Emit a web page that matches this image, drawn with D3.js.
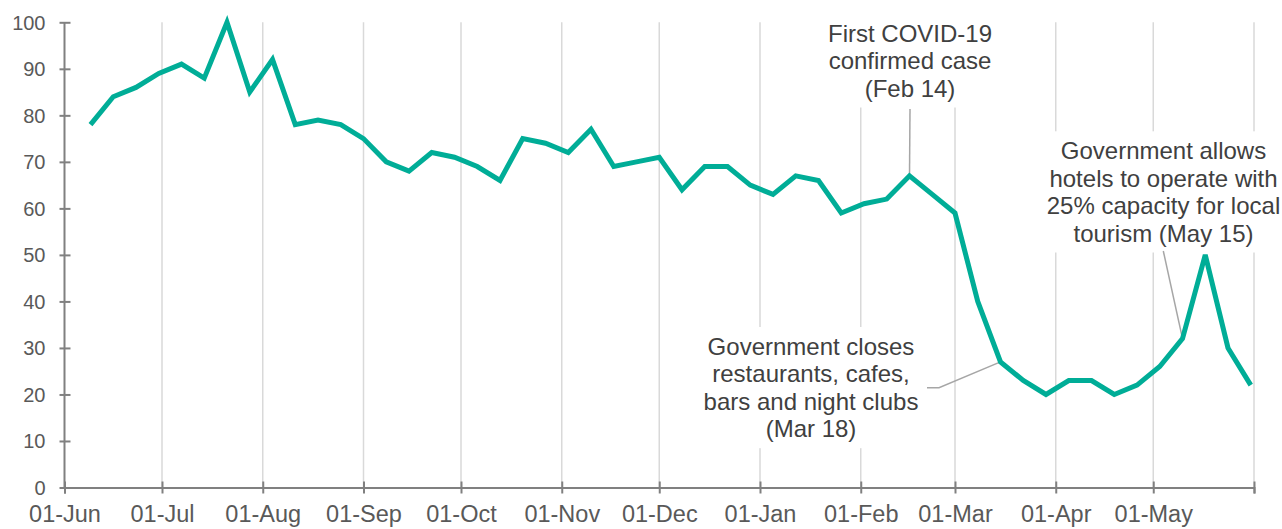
<!DOCTYPE html>
<meta charset="utf-8">
<style>
body { margin: 0; background: #fff; }
svg { font-family: "Liberation Sans", Arial, sans-serif; }
.grid line { stroke: #d9d9d9; stroke-width: 1.5px; }
.axis path, .axis line { stroke: #808080; stroke-width: 2px; }
.axis text { fill: #595959; }
.line { fill: none; stroke: #00ad97; stroke-width: 5px; stroke-linejoin: miter; }
.note text { fill: #404040; font-size: 24px; }
.leader { fill: none; stroke: #a6a6a6; stroke-width: 1.5px; }
</style>
<body>
<script src="https://d3js.org/d3.v7.min.js"></script>
<script>

// weekly dates and values
var weeks = [
  "2019-06-09","2019-06-16","2019-06-23","2019-06-30","2019-07-07","2019-07-14",
  "2019-07-21","2019-07-28","2019-08-04","2019-08-11","2019-08-18","2019-08-25",
  "2019-09-01","2019-09-08","2019-09-15","2019-09-22","2019-09-29","2019-10-06",
  "2019-10-13","2019-10-20","2019-10-27","2019-11-03","2019-11-10","2019-11-17",
  "2019-11-24","2019-12-01","2019-12-08","2019-12-15","2019-12-22","2019-12-29",
  "2020-01-05","2020-01-12","2020-01-19","2020-01-26","2020-02-02","2020-02-09",
  "2020-02-16","2020-02-23","2020-03-01","2020-03-08","2020-03-15","2020-03-22",
  "2020-03-29","2020-04-05","2020-04-12","2020-04-19","2020-04-26","2020-05-03",
  "2020-05-10","2020-05-17","2020-05-24","2020-05-31"
];
var values = [
  78, 84, 86, 89, 91, 88,
  100, 85, 92, 78, 79, 78,
  75, 70, 68, 72, 71, 69,
  66, 75, 74, 72, 77, 69,
  70, 71, 64, 69, 69, 65,
  63, 67, 66, 59, 61, 62,
  67, 63, 59, 40, 27, 23,
  20, 23, 23, 20, 22, 26,
  32, 50, 30, 22
];
var yTicks = [0, 10, 20, 30, 40, 50, 60, 70, 80, 90, 100];
var monthTicks = [
  "2019-06-01","2019-07-01","2019-08-01","2019-09-01","2019-10-01","2019-11-01",
  "2019-12-01","2020-01-01","2020-02-01","2020-03-01","2020-04-01","2020-05-01",
  "2020-06-01"
];

// annotations: the week each points at, and its text lines
var noteWeeks = ["2020-02-16", "2020-03-15", "2020-05-10"];
var noteLines = [
  ["First COVID-19", "confirmed case", "(Feb 14)"],
  ["Government closes", "restaurants, cafes,", "bars and night clubs", "(Mar 18)"],
  ["Government allows", "hotels to operate with", "25% capacity for local", "tourism (May 15)"]
];

var parseDate = d3.timeParse("%Y-%m-%d");
var data = weeks.map(function(w, i) { return {date: parseDate(w), value: values[i]}; });
var ticks = monthTicks.map(parseDate);

var width = 1282, height = 529;
var svg = d3.select("body").append("svg")
    .attr("width", width)
    .attr("height", height);

var x = d3.scaleTime()
    .domain([ticks[0], ticks[ticks.length - 1]])
    .range([64.5, 1254]);
var y = d3.scaleLinear()
    .domain([0, 100])
    .range([487.5, 22.3]);

// vertical gridlines
svg.append("g").attr("class", "grid")
  .selectAll("line")
  .data(ticks.slice(1))
  .enter().append("line")
    .attr("x1", function(d) { return x(d); })
    .attr("x2", function(d) { return x(d); })
    .attr("y1", y(100))
    .attr("y2", y(0));

// annotation layout (text centre and first baseline)
var noteLayout = [
  {cx: 910, top: 41.7, leader: [[910, 109]]},
  {cx: 811, top: 355, leader: [[927, 387.7], [939, 387.7]]},
  {cx: 1163.5, top: 159.3, leader: [[1163.3, 251]]}
];
var lineH = 27.4;

noteLines.forEach(function(lines, k) {
  var L = noteLayout[k];
  var g = svg.append("g").attr("class", "note");
  var rect = g.append("rect").attr("fill", "#fff");
  var t = g.append("text").attr("text-anchor", "middle");
  lines.forEach(function(s, j) {
    t.append("tspan")
      .attr("x", L.cx)
      .attr("y", L.top + j * lineH)
      .text(s);
  });
  var b = t.node().getBBox();
  rect.attr("x", b.x - 6).attr("y", b.y - 6)
      .attr("width", b.width + 12).attr("height", b.height + 12);

  var d = data.find(function(p) { return +p.date === +parseDate(noteWeeks[k]); });
  var pts = L.leader.concat([[x(d.date), y(d.value)]]);
  svg.append("path")
    .attr("class", "leader")
    .attr("d", d3.line()(pts));
});

// x axis
var xAxis = svg.append("g")
    .attr("class", "axis")
    .attr("transform", "translate(0," + y(0) + ")")
    .call(d3.axisBottom(x)
      .tickValues(ticks)
      .tickSizeOuter(0)
      .tickSize(6)
      .tickFormat(function(d, i) { return i === ticks.length - 1 ? "" : d3.timeFormat("%d-%b")(d); }));
xAxis.selectAll(".tick line").attr("y1", -6).attr("y2", 6);
xAxis.selectAll(".tick text")
    .attr("y", 34.5).attr("dy", 0)
    .style("font-size", "23.5px");

// y axis
var yAxis = svg.append("g")
    .attr("class", "axis")
    .attr("transform", "translate(" + x.range()[0] + ",0)")
    .call(d3.axisLeft(y)
      .tickValues(yTicks)
      .tickSizeOuter(0)
      .tickSize(6));
yAxis.select(".domain").attr("d", "M0," + y(0) + "V" + y(100));
yAxis.selectAll(".tick line").attr("x1", -5).attr("x2", 6);
yAxis.selectAll(".tick text")
    .attr("x", -19).attr("dy", "0.35em")
    .style("font-size", "20px");

// data line
svg.append("path")
    .datum(data)
    .attr("class", "line")
    .attr("d", d3.line()
      .x(function(d) { return x(d.date); })
      .y(function(d) { return y(d.value); }));

</script>
</body>
